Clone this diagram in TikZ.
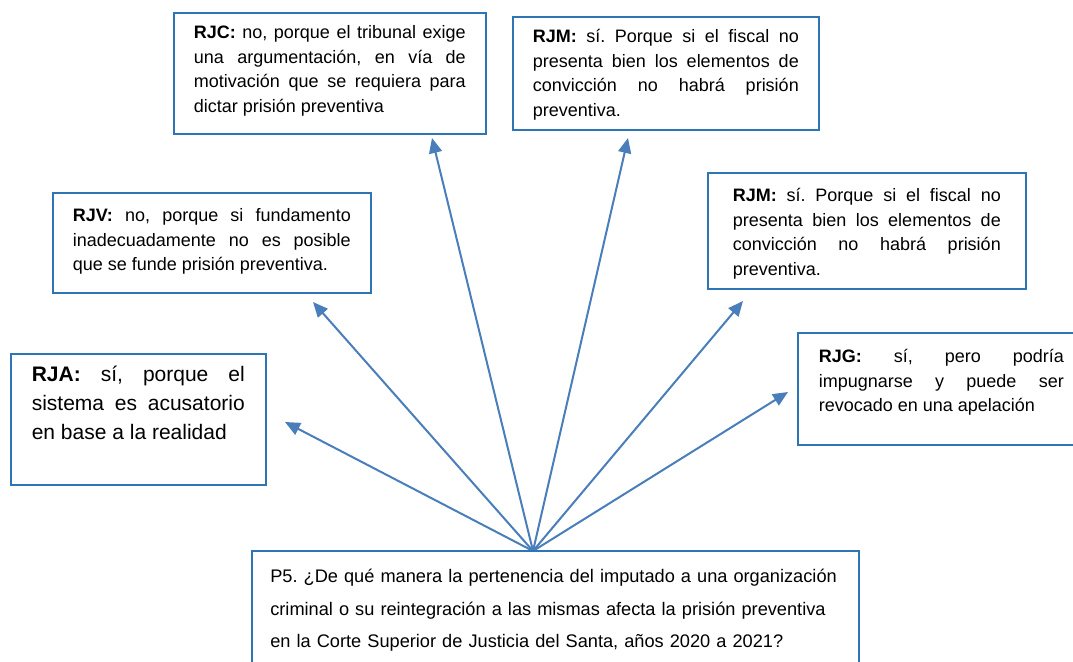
\documentclass[tikz,border=0pt]{standalone}
\usepackage{fontspec}
\setmainfont{Liberation Sans}
\usetikzlibrary{arrows.meta}
\definecolor{boxblue}{RGB}{46,117,182}
\definecolor{arrowblue}{RGB}{74,126,187}
\frenchspacing
\hyphenpenalty=10000
\tikzset{
  resp/.style={draw=boxblue, line width=1.6pt, anchor=north west, align=justify,
    inner xsep=20pt, inner ysep=0pt, font=\fontsize{18}{24.5}\selectfont},
  link/.style={draw=arrowblue, line width=2pt, -{Triangle[length=15pt,width=13pt]}}
}
\begin{document}
\begin{tikzpicture}[x=1pt,y=-1pt]
\useasboundingbox (0,0) rectangle (1073,661);
% answers
\node[resp, text width=272pt, text height=26pt, text depth=95pt] (rjc) at (173,12){\textbf{RJC:} no, porque el tribunal exige\linebreak una argumentación, en vía de\linebreak motivación que se requiera para\linebreak dictar prisión preventiva};
\node[resp, text width=266pt, text height=26pt, text depth=87pt] (rjm1) at (512,16){\textbf{RJM:} sí. Porque si el fiscal no\linebreak presenta bien los elementos de\linebreak convicción no habrá prisión\linebreak preventiva.};
\node[resp, text width=278pt, text height=29pt, text depth=71pt] (rjv) at (52,192){\textbf{RJV:} no, porque si fundamento\linebreak inadecuadamente no es posible\linebreak que se funde prisión preventiva.};
\node[resp, text width=268pt, inner xsep=25pt, text height=29pt, text depth=87pt] (rjm2) at (707,172){\textbf{RJM:} sí. Porque si el fiscal no\linebreak presenta bien los elementos de\linebreak convicción no habrá prisión\linebreak preventiva.};
\node[resp, text width=213pt, inner xsep=21pt, text height=28pt, text depth=103pt, font=\fontsize{21}{29}\selectfont] (rja) at (10,353){\textbf{RJA:} sí, porque el\linebreak sistema es acusatorio\linebreak en base a la realidad};
\node[resp, text width=245pt, inner xsep=21pt, text height=30pt, text depth=82pt] (rjg) at (797,332){\textbf{RJG:} sí, pero podría\linebreak impugnarse y puede ser\linebreak revocado en una apelación};
% arrows
\coordinate (hub) at (533,551);
\coordinate (trja) at (285,422);
\coordinate (trjv) at (313,302);
\coordinate (trjc) at (432,138);
\coordinate (trjm1) at (628,138);
\coordinate (trjm2) at (743,301);
\coordinate (trjg) at (788,392);
\draw[link] (hub) -- (trja);
\draw[link] (hub) -- (trjv);
\draw[link] (hub) -- (trjc);
\draw[link] (hub) -- (trjm1);
\draw[link] (hub) -- (trjm2);
\draw[link] (hub) -- (trjg);
% question
\node[resp, align=left, text width=570pt, inner xsep=18.5pt, text height=32pt, text depth=88pt, font=\fontsize{18.2}{32.5}\selectfont] (p5) at (251,550){P5. ¿De qué manera la pertenencia del imputado a una organización\\criminal o su reintegración a las mismas afecta la prisión preventiva\\en la Corte Superior de Justicia del Santa, años 2020 a 2021?};
\end{tikzpicture}
\end{document}
